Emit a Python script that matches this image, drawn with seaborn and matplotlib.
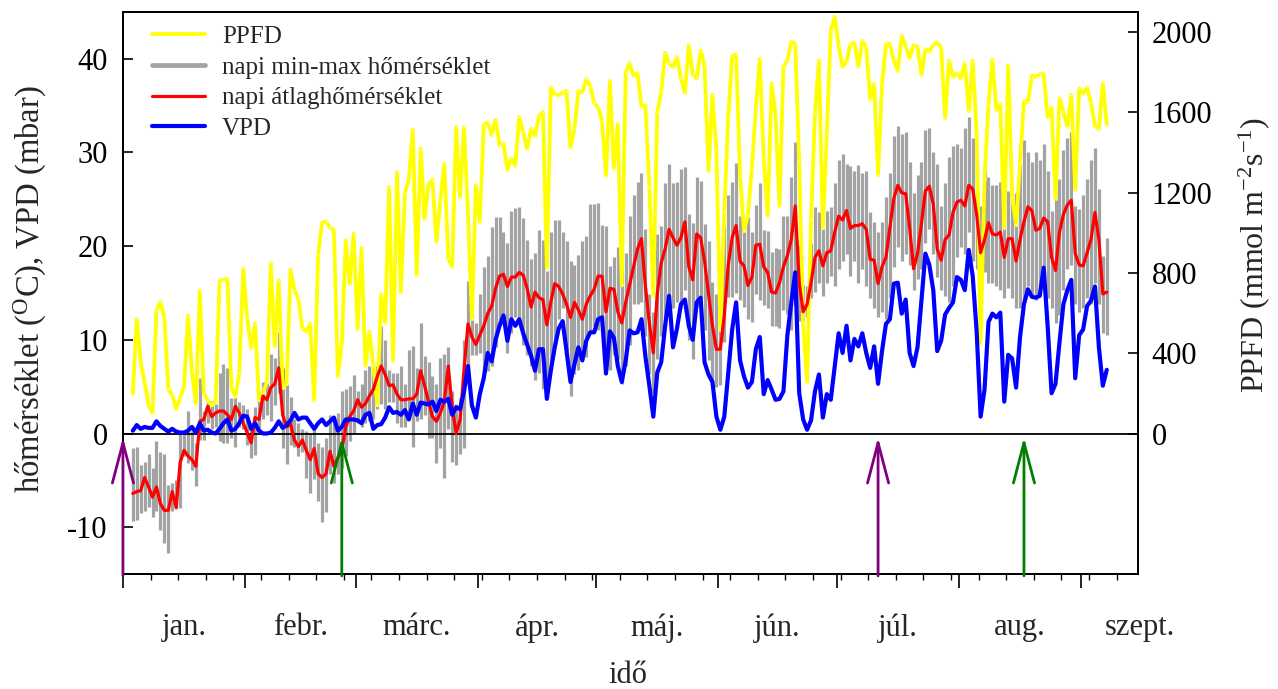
import numpy as np
import pandas as pd
import matplotlib
matplotlib.use("Agg")
import matplotlib.pyplot as plt
from matplotlib.lines import Line2D
from matplotlib.transforms import blended_transform_factory
import seaborn as sns

# first measurement day (day of year); one value per day afterwards
first_doy = 3

# daily photosynthetic photon flux density (mmol m-2 s-1)
ppfd = [
    197, 569, 354, 256, 140, 104, 614, 655, 578, 220, 193, 122, 175, 238, 587, 310, 149, 712, 202, 166,
    140, 158, 757, 766, 770, 229, 184, 301, 823, 578, 426, 548, 166, 202, 256, 847, 435, 763, 229, 247, 816,
    716, 668, 524, 507, 548, 166, 891, 1049, 1056, 1027, 1013, 286, 444, 963, 745, 995, 519, 924, 337, 507,
    340, 140, 695, 551, 1228, 363, 1303, 703, 1196, 1267, 1513, 788, 1419, 1070, 1242, 1264, 954, 1160, 1343, 874, 831, 1527,
    1178, 1527, 1097, 569, 1237, 1056, 1536, 1550, 1487, 1563, 1437, 1446, 1312, 1371, 1335, 1577, 1500, 1419, 1518, 1482,
    1581, 1602, 823, 1724, 1692, 1683, 1700, 1706, 1425, 1518, 1706, 1700, 1765, 1733, 1647, 1625, 1558, 1285, 1756, 1321, 1541, 739,
    1801, 1844, 1781, 1795, 1629, 1634, 1226, 686, 1602, 1700, 1897, 1844, 1826, 1876, 1769, 1697, 1935, 1790, 1769, 1908,
    1831, 1308, 1688, 1411, 516, 1103, 1577, 1880, 1888, 1285, 1008, 1088, 1321, 1622, 1867, 1369, 1085, 1743, 1584, 1133, 1828, 1858,
    1951, 1942, 1357, 551, 256, 1070, 1595, 1858, 1026, 1491, 2007, 2076, 1930, 1826, 1853, 1939, 1948, 1828, 1956, 1924,
    1665, 1742, 1289, 1738, 1939, 1942, 1858, 1808, 1983, 1930, 1871, 1933, 1926, 1786, 1915, 1903, 1935, 1948, 1924, 1572, 1858,
    1777, 1795, 1769, 1844, 1607, 1858, 1491, 453, 1267, 1640, 1863, 1613, 1640, 1026, 1835, 1178, 1038, 1348, 1656, 1652,
    1783, 1777, 1790, 1790, 1575, 1625, 1169, 1670, 1602, 1527, 1688, 1214, 1718, 1693, 1724, 1647, 1532, 1518, 1745, 1539,
]

# daily vapour pressure deficit (mbar)
vpd = [
    0.3, 0.9, 0.5, 0.7, 0.6, 0.6, 1.3, 0.8, 0.5, 0.2, 0.5, 0.2, 0.1, 0.1, 0.3, 0.7, 0.1, 1.1, 0.3, 0.4,
    0.1, 0.0, 0.5, 1.1, 1.5, 0.3, 0.5, 1.1, 1.9, 1.8, 0.5, 1.1, 0.3, 0.0, 0.0, 0.1, 0.6, 1.3, 0.6, 0.9, 1.4,
    2.2, 1.5, 1.7, 1.7, 1.1, 0.5, 1.1, 1.5, 0.9, 1.3, 1.7, 0.3, 0.7, 1.5, 1.5, 1.5, 1.4, 1.1, 2.0, 2.2,
    0.5, 0.9, 1.0, 1.7, 2.8, 2.2, 2.3, 2.0, 2.5, 1.5, 3.2, 2.0, 3.3, 3.2, 3.1, 3.4, 2.4, 3.6, 3.4, 3.7, 2.0, 2.8,
    2.6, 4.5, 7.2, 3.0, 1.7, 4.2, 5.9, 8.6, 7.7, 10.0, 11.5, 12.6, 9.9, 12.2, 11.5, 12.2, 10.7, 9.5, 8.3, 6.7,
    9.0, 9.0, 3.7, 6.7, 9.2, 11.2, 12.0, 8.8, 5.5, 7.4, 9.2, 7.8, 9.9, 10.8, 10.8, 12.2, 12.4, 6.4, 10.9, 10.2, 7.2, 5.5,
    7.8, 11.0, 10.7, 10.8, 12.2, 8.2, 5.1, 1.8, 6.5, 7.6, 11.5, 14.7, 9.2, 11.2, 13.8, 14.3, 11.5, 10.0, 14.0, 14.5,
    7.6, 6.3, 5.5, 1.8, 0.4, 1.8, 6.5, 11.1, 14.0, 7.8, 6.1, 4.9, 5.5, 9.0, 10.3, 4.2, 5.7, 4.7, 3.6, 3.7, 4.5, 10.5,
    14.0, 17.2, 4.3, 1.5, 0.4, 1.4, 4.5, 6.3, 1.7, 4.2, 3.6, 7.2, 10.7, 8.6, 11.5, 7.8, 10.1, 9.3, 10.7, 8.6,
    7.0, 9.3, 5.3, 8.8, 11.7, 12.2, 16.0, 16.1, 12.8, 14.3, 8.6, 7.2, 9.2, 14.2, 19.2, 18.0, 15.3, 8.8, 9.9, 12.7, 13.4,
    14.0, 16.7, 16.4, 15.3, 19.6, 16.8, 10.9, 1.8, 4.7, 11.9, 12.8, 12.4, 12.9, 3.4, 8.4, 8.0, 4.9, 10.3, 13.8, 15.4,
    14.6, 14.5, 14.7, 17.7, 11.5, 4.3, 5.3, 9.7, 13.8, 15.3, 16.4, 5.9, 10.5, 11.1, 13.6, 14.2, 15.7, 9.2, 5.1, 6.8,
]

# daily mean air temperature (°C)
t_mean = [
    -6.4, -6.2, -6.1, -4.7, -5.7, -6.8, -5.7, -7.5, -8.2, -8.2, -6.2, -7.9, -3.1, -1.8, -2.4, -2.8, -3.5, 1.3, 1.5, 2.9,
    1.8, 2.2, 2.4, 2.4, 2.0, 1.5, 2.9, 2.2, 1.1, 0.1, -1.0, 1.7, 1.5, 4.0, 3.6, 4.9, 5.3, 7.0, 2.0, 0.7, 1.0,
    -0.7, -1.4, -0.7, -1.8, -2.8, -1.6, -4.3, -4.7, -4.3, -1.9, -3.5, -2.6, -1.8, 0.7, 1.8, 2.4, 3.6, 2.8, 3.2, 4.0,
    4.7, 6.1, 7.2, 6.3, 5.1, 5.2, 4.2, 3.6, 3.6, 3.7, 3.7, 4.2, 6.7, 5.1, 3.4, 1.8, 1.3, 2.2, 3.4, 7.2, 2.8, 0.0,
    1.5, 6.8, 11.7, 10.3, 9.5, 10.5, 11.5, 12.8, 13.6, 15.5, 16.8, 17.0, 15.7, 16.7, 16.7, 17.2, 16.9, 15.5, 13.5, 15.1,
    14.5, 14.3, 11.6, 14.0, 16.0, 15.7, 14.9, 13.8, 12.4, 14.0, 13.2, 12.2, 13.8, 14.7, 15.4, 16.8, 16.8, 13.0, 15.5, 15.4, 13.0, 11.8,
    14.0, 15.9, 17.8, 19.7, 20.8, 15.7, 11.8, 8.6, 14.9, 18.2, 19.7, 21.8, 20.9, 20.1, 20.9, 22.6, 17.8, 16.4, 21.3, 20.9,
    18.4, 14.9, 11.5, 9.0, 9.0, 12.6, 18.0, 20.9, 22.2, 18.4, 17.9, 15.8, 16.7, 20.1, 20.2, 17.8, 17.2, 15.1, 15.0, 16.1, 17.8, 19.0,
    20.7, 24.3, 16.1, 13.0, 13.8, 16.1, 18.8, 19.5, 17.9, 19.3, 19.5, 21.5, 23.2, 22.8, 23.8, 21.9, 22.2, 22.2, 22.4, 21.8,
    18.6, 18.5, 16.0, 17.8, 18.8, 22.0, 25.1, 26.5, 25.7, 25.6, 22.0, 17.6, 19.2, 22.4, 25.9, 26.4, 24.5, 19.7, 18.5, 20.7, 21.2,
    23.6, 24.7, 24.9, 24.3, 26.5, 26.1, 23.4, 19.3, 20.7, 22.5, 21.3, 21.2, 21.5, 18.8, 20.8, 20.8, 18.4, 20.7, 22.6, 24.2,
    23.8, 21.7, 21.9, 23.0, 22.6, 18.8, 17.4, 21.5, 23.4, 24.4, 24.9, 19.2, 18.0, 17.9, 19.3, 20.7, 23.6, 20.7, 14.9, 15.1,
]

# daily maximum air temperature (°C)
t_max = [
    -1.5, -1.4, -3.4, -3.0, -2.2, -3.7, -0.8, -2.0, -2.2, -5.5, -5.3, -5.0, -0.1, 0.1, 2.4, 0.3, -1.0, 5.9, 2.4, 3.6,
    3.5, 3.2, 6.5, 7.4, 7.0, 3.8, 4.0, 3.4, 3.0, 2.6, 1.1, 2.8, 3.8, 5.5, 5.5, 8.5, 8.1, 10.8, 7.0, 5.3, 3.9,
    1.5, 1.1, 0.5, 0.3, -0.1, 0.5, -1.0, -1.4, -0.5, 2.0, 1.8, 2.2, 4.5, 4.7, 5.1, 6.2, 4.5, 5.3, 6.8, 7.2,
    7.4, 7.2, 11.5, 10.0, 6.8, 6.5, 6.5, 7.2, 5.3, 8.9, 9.3, 7.0, 11.8, 8.3, 7.6, 6.1, 5.3, 8.1, 8.5, 9.2, 4.5, 3.2,
    3.8, 10.0, 16.3, 12.8, 11.8, 14.9, 17.8, 19.0, 22.0, 23.1, 23.1, 21.5, 20.3, 23.8, 24.1, 24.2, 23.0, 20.7, 18.6, 19.3,
    21.7, 20.7, 17.4, 21.5, 22.8, 22.8, 21.5, 20.5, 18.4, 18.0, 19.1, 20.5, 21.1, 24.5, 24.5, 24.6, 22.3, 22.2, 17.9, 18.8, 19.9, 17.6,
    19.3, 23.2, 25.5, 26.8, 27.8, 21.8, 14.9, 13.0, 21.3, 22.1, 26.7, 28.8, 26.7, 26.8, 28.2, 28.4, 23.4, 22.5, 27.4, 27.0,
    22.4, 20.5, 16.2, 14.9, 16.4, 22.1, 25.5, 26.8, 28.9, 23.2, 22.0, 23.1, 21.5, 24.4, 26.7, 21.7, 21.6, 19.4, 19.8, 19.7, 23.2, 23.2,
    27.4, 31.1, 20.1, 15.9, 15.7, 20.3, 24.2, 23.6, 21.8, 23.8, 24.2, 26.7, 29.2, 29.8, 28.8, 28.6, 28.0, 28.7, 27.8, 28.0,
    23.6, 22.6, 21.5, 22.6, 25.3, 27.8, 31.8, 32.8, 32.0, 32.2, 29.0, 25.7, 27.6, 29.0, 32.4, 32.6, 30.1, 28.8, 24.3, 26.7, 29.5,
    30.7, 30.9, 30.5, 32.6, 33.8, 31.5, 29.2, 24.3, 28.8, 27.4, 26.5, 26.5, 26.8, 25.3, 25.9, 25.7, 25.7, 29.0, 31.3, 30.1,
    29.0, 30.1, 29.2, 30.9, 28.0, 23.8, 25.3, 27.2, 30.3, 31.5, 32.2, 24.3, 24.0, 25.5, 27.2, 29.2, 30.5, 26.1, 19.0, 20.9,
]

# daily minimum air temperature (°C)
t_min = [
    -9.3, -9.2, -8.5, -8.3, -7.8, -8.9, -8.3, -10.3, -11.7, -12.8, -8.3, -8.1, -8.0, -2.4, -3.2, -3.9, -5.6, -0.7, -0.7, 1.1,
    0.5, 0.7, -0.8, -1.0, -1.0, -0.5, -1.4, 0.7, 0.5, -1.2, -2.6, -2.3, 0.5, 1.5, 2.0, 1.3, 3.0, 4.3, -1.6, -3.3, -1.2,
    -1.4, -2.4, -2.0, -4.7, -6.4, -4.9, -7.2, -9.4, -8.4, -4.3, -5.3, -4.3, -3.7, -2.4, -0.8, -0.1, 1.1, 0.7, 1.1, 1.3,
    1.5, 2.6, 3.2, 2.6, 3.4, 3.4, 1.1, 0.7, 0.7, 1.5, -1.4, 1.3, 1.6, 2.0, -0.5, -0.5, -3.2, -1.6, -4.7, 0.5, -3.0, -3.4,
    -2.2, -1.6, 5.3, 8.4, 8.4, 8.6, 6.1, 6.7, 7.2, 9.2, 11.5, 11.8, 8.6, 10.7, 12.4, 11.8, 9.5, 8.4, 7.2, 5.7,
    6.5, 4.7, 3.8, 6.8, 9.5, 12.2, 13.4, 8.8, 4.0, 6.3, 6.8, 7.8, 8.2, 10.7, 11.5, 11.1, 11.5, 6.7, 6.8, 8.4, 8.0, 5.3,
    7.2, 9.5, 13.8, 13.8, 14.0, 10.4, 6.3, 4.3, 8.0, 10.4, 11.5, 14.9, 13.4, 14.0, 13.4, 15.3, 10.0, 8.0, 13.5, 14.5,
    11.0, 7.8, 5.2, 5.0, 5.2, 9.8, 14.6, 14.6, 15.0, 14.3, 13.5, 12.2, 11.9, 14.9, 14.2, 13.7, 13.4, 11.5, 11.5, 11.3, 13.2, 12.8,
    11.1, 13.6, 12.0, 11.8, 12.4, 14.5, 15.1, 16.1, 14.7, 16.1, 16.8, 15.7, 17.6, 18.4, 19.2, 16.8, 18.4, 16.1, 17.6, 15.7,
    14.5, 13.4, 12.4, 13.0, 12.2, 14.5, 17.8, 19.9, 18.4, 19.2, 18.0, 15.3, 16.5, 17.6, 20.3, 21.8, 19.2, 16.7, 15.3, 14.7, 14.0,
    15.7, 18.8, 19.9, 19.2, 21.5, 18.4, 17.6, 15.3, 17.2, 16.1, 16.1, 15.7, 15.3, 14.5, 15.5, 14.5, 13.4, 13.4, 13.8, 15.7,
    14.5, 14.2, 15.3, 16.1, 14.5, 13.4, 11.8, 12.6, 15.3, 17.6, 18.0, 13.8, 13.0, 13.4, 14.5, 13.8, 16.1, 13.8, 10.7, 10.5,
]

month_labels = ["jan.", "febr.", "márc.", "ápr.", "máj.", "jún.", "júl.", "aug.", "szept."]
month_lengths = [31, 28, 31, 30, 31, 30, 31, 31, 30]

# event markers (day position, colour)
arrow_days = [0.0, 55.5, 191.5, 228.5]
arrow_colors = ["#800080", "#008000", "#800080", "#008000"]

legend_labels = ["PPFD", "napi min-max hőmérséklet", "napi átlaghőmérséklet", "VPD"]

# ---------------------------------------------------------------------------
df = pd.DataFrame({
    "doy": np.arange(first_doy, first_doy + len(ppfd)),
    "ppfd": ppfd, "vpd": vpd, "t_mean": t_mean, "t_max": t_max, "t_min": t_min,
})
df["day"] = df["doy"] - 0.5          # centre of each day, 1 Jan starts at 0

month_start = np.concatenate([[0], np.cumsum(month_lengths)[:-1]])
month_mid = month_start + np.array(month_lengths) / 2.0

sns.set_theme(style="ticks")
plt.rcParams["font.family"] = ["Liberation Serif", "DejaVu Serif"]
plt.rcParams["mathtext.fontset"] = "custom"
plt.rcParams["mathtext.rm"] = "Liberation Serif"
plt.rcParams["mathtext.it"] = "Liberation Serif:italic"
plt.rcParams["mathtext.bf"] = "Liberation Serif:bold"
plt.rcParams["axes.unicode_minus"] = False
plt.rcParams["axes.edgecolor"] = "black"
plt.rcParams["xtick.color"] = "black"
plt.rcParams["ytick.color"] = "black"

FS = 22
YELLOW = "#ffff00"
fig = plt.figure(figsize=(12.78, 6.89), dpi=100, facecolor="white")
ax = fig.add_axes([0.0962, 0.1669, 0.7942, 0.8157])
ax_p = ax.twinx()      # PPFD scale (right)
ax_t = ax.twinx()      # temperature / VPD lines drawn on top

# min-max temperature bars
ax.vlines(df["day"], df["t_min"], df["t_max"], color="#a3a3a3", lw=2.3, zorder=2)

# PPFD
sns.lineplot(data=df, x="day", y="ppfd", ax=ax_p, color=YELLOW, lw=2.7,
             marker="o", markersize=1.6, markerfacecolor="#ffffd8",
             markeredgecolor=YELLOW, markeredgewidth=0.4, legend=False)

# zero line, mean temperature and VPD
ax_t.axhline(0, color="black", lw=1.3, zorder=1)
sns.lineplot(data=df, x="day", y="t_mean", ax=ax_t, color="#ff0000", lw=2.3, legend=False)
sns.lineplot(data=df, x="day", y="vpd", ax=ax_t, color="#0000ff", lw=3.0, legend=False)

# event arrows
for d, c in zip(arrow_days, arrow_colors):
    ax_t.annotate("", xy=(d, -0.4), xytext=(d, -15.2),
                  arrowprops=dict(arrowstyle="->,head_length=1.45,head_width=0.38",
                                  color=c, lw=2.0, shrinkA=0, shrinkB=0,
                                  mutation_scale=20),
                  annotation_clip=False)

# axes limits & ticks
for a in (ax, ax_t):
    a.set_ylim(-15, 45)
ax_p.set_ylim(-700, 2100)
ax.set_xlim(0, 257.4)

ax.set_yticks([-10, 0, 10, 20, 30, 40])
ax_p.set_yticks([0, 400, 800, 1200, 1600, 2000])
ax.set_xticks(month_start)
ax.set_xticks(np.arange(0, 258, 7), minor=True)
ax.set_xticklabels([])

ax.tick_params(axis="y", direction="in", length=7, width=1.2, labelsize=FS, pad=11)
ax_p.tick_params(axis="y", direction="in", length=7, width=1.2, labelsize=FS, pad=10)
ax.tick_params(axis="x", which="major", direction="out", length=10, width=1.2)
ax.tick_params(axis="x", which="minor", direction="out", length=4.5, width=1.0)
ax_t.yaxis.set_visible(False)

for a in (ax, ax_p, ax_t):
    for s in a.spines.values():
        s.set_linewidth(1.3)
        s.set_color("black")

trans = blended_transform_factory(ax.transData, ax.transAxes)
for m, lab in zip(month_mid, month_labels):
    ax.text(m, -0.096, lab, transform=trans, ha="center", va="center", fontsize=FS)

ax.set_ylabel("hőmérséklet ($^{\\mathrm{O}}$C), VPD (mbar)", fontsize=23.5,
              ha="center", va="center")
ax.yaxis.set_label_coords(-0.0916, 0.507)
ax_p.set_ylabel("PPFD (mmol m$^{\\mathrm{-2}}$s$^{\\mathrm{-1}}$)", fontsize=23,
                ha="center", va="center")
ax_p.yaxis.set_label_coords(1.114, 0.568)
ax.set_xlabel("idő", fontsize=FS, ha="center", va="center")
ax.xaxis.set_label_coords(0.4975, -0.180)
ax_p.set_xlabel("")
ax_t.set_xlabel("")
ax_t.set_ylabel("")

# legend
handles = [
    Line2D([], [], color=YELLOW, lw=2.7, marker="o", markersize=1.6,
           markerfacecolor="#ffffd8", markeredgecolor=YELLOW, markeredgewidth=0.4),
    Line2D([], [], color="#a3a3a3", lw=3.4),
    Line2D([], [], color="#ff0000", lw=2.3),
    Line2D([], [], color="#0000ff", lw=3.0),
]
ax_t.legend(handles, legend_labels, loc="upper left", bbox_to_anchor=(0.0286, 0.976),
            frameon=False, fontsize=18, handlelength=2.12, handletextpad=0.68,
            labelspacing=0.33, borderpad=0, borderaxespad=0, numpoints=1)

fig.savefig("out.png", dpi=100, facecolor="white")
